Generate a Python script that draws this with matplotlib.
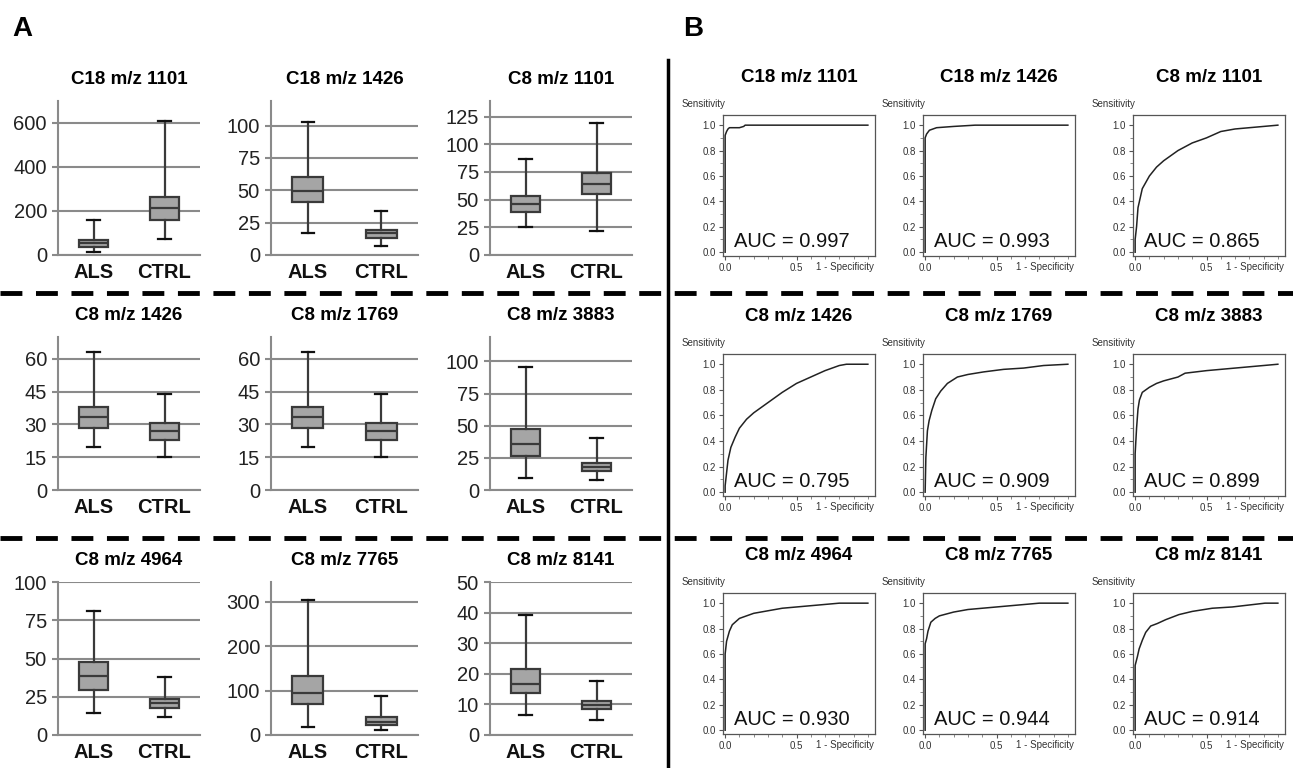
import numpy as np
import matplotlib
matplotlib.use('Agg')
import matplotlib.pyplot as plt
from matplotlib.lines import Line2D
from matplotlib.ticker import MultipleLocator

plt.rcParams['font.family'] = ['Liberation Sans', 'DejaVu Sans']

# ---- data ----
titles = ['C18 m/z 1101', 'C18 m/z 1426', 'C8 m/z 1101',
          'C8 m/z 1426', 'C8 m/z 1769', 'C8 m/z 3883',
          'C8 m/z 4964', 'C8 m/z 7765', 'C8 m/z 8141']
groups = ['ALS', 'CTRL']

# [whisker low, Q1, median, Q3, whisker high]
als_stats = [
    [15, 38, 56, 68, 159],
    [17, 41, 49.5, 60.6, 103],
    [25.4, 39, 46, 53.3, 86.7],
    [19.8, 28.3, 33.2, 38.1, 63.2],
    [19.8, 28.3, 33.2, 38.1, 63.2],
    [9.6, 26.1, 35.9, 47.3, 95.3],
    [14.3, 29.3, 38.5, 47.4, 81],
    [17, 69, 95, 132, 304],
    [6.6, 13.6, 16.8, 21.5, 39.3],
]
ctrl_stats = [
    [71, 159, 214, 263, 607],
    [7.2, 12.9, 16.8, 19.6, 34],
    [21.4, 55, 64.3, 73.8, 119],
    [15.1, 23.1, 27.2, 30.5, 44],
    [15.1, 23.1, 27.2, 30.5, 44],
    [8, 15, 18.1, 21.2, 40.3],
    [11.7, 17.4, 20.6, 23.7, 37.8],
    [10.5, 22.6, 29, 41, 88],
    [4.9, 8.4, 9.9, 11.1, 17.6],
]
y_ticks = [[0, 200, 400, 600], [0, 25, 50, 75, 100], [0, 25, 50, 75, 100, 125],
           [0, 15, 30, 45, 60], [0, 15, 30, 45, 60], [0, 25, 50, 75, 100],
           [0, 25, 50, 75, 100], [0, 100, 200, 300], [0, 10, 20, 30, 40, 50]]
y_max = [700, 119, 139, 70, 70, 119, 100, 345, 50]

auc_values = ['0.997', '0.993', '0.865', '0.795', '0.909', '0.899', '0.930', '0.944', '0.914']
roc_fpr = [
    [0, 0, 0.01, 0.02, 0.03, 0.1, 0.13, 0.14, 1],
    [0, 0, 0.01, 0.03, 0.08, 0.2, 0.35, 1],
    [0, 0, 0.01, 0.02, 0.03, 0.05, 0.1, 0.15, 0.2, 0.3, 0.4, 0.5, 0.6, 0.7, 0.8, 0.9, 1],
    [0, 0, 0.01, 0.02, 0.04, 0.07, 0.1, 0.15, 0.2, 0.3, 0.4, 0.5, 0.6, 0.7, 0.8, 0.85, 1],
    [0, 0.005, 0.016, 0.028, 0.047, 0.074, 0.109, 0.156, 0.226, 0.3, 0.41, 0.55, 0.69, 0.83, 1],
    [0, 0, 0.01, 0.02, 0.03, 0.05, 0.1, 0.15, 0.2, 0.3, 0.35, 0.5, 0.6, 0.8, 0.9, 1],
    [0, 0, 0.01, 0.03, 0.05, 0.1, 0.2, 0.3, 0.4, 0.5, 0.6, 0.7, 0.8, 1],
    [0, 0, 0.01, 0.02, 0.04, 0.07, 0.1, 0.2, 0.3, 0.5, 0.7, 0.8, 1],
    [0, 0, 0.016, 0.028, 0.051, 0.074, 0.109, 0.156, 0.214, 0.307, 0.4, 0.54, 0.68, 0.81, 0.91, 1],
]
roc_tpr = [
    [0, 0.92, 0.95, 0.97, 0.98, 0.98, 0.99, 1.0, 1.0],
    [0, 0.9, 0.93, 0.96, 0.98, 0.99, 1.0, 1.0],
    [0, 0.1, 0.2, 0.35, 0.4, 0.5, 0.6, 0.67, 0.72, 0.8, 0.86, 0.9, 0.95, 0.97, 0.98, 0.99, 1.0],
    [0, 0.05, 0.15, 0.25, 0.35, 0.43, 0.5, 0.57, 0.62, 0.7, 0.78, 0.85, 0.9, 0.95, 0.99, 1.0, 1.0],
    [0, 0.27, 0.48, 0.56, 0.64, 0.73, 0.79, 0.85, 0.9, 0.92, 0.94, 0.96, 0.97, 0.99, 1.0],
    [0, 0.3, 0.5, 0.65, 0.72, 0.78, 0.82, 0.85, 0.87, 0.9, 0.93, 0.95, 0.96, 0.98, 0.99, 1.0],
    [0, 0.6, 0.7, 0.78, 0.83, 0.88, 0.92, 0.94, 0.96, 0.97, 0.98, 0.99, 1.0, 1.0],
    [0, 0.68, 0.72, 0.78, 0.85, 0.88, 0.9, 0.93, 0.95, 0.97, 0.99, 1.0, 1.0],
    [0, 0.51, 0.58, 0.64, 0.71, 0.77, 0.82, 0.84, 0.87, 0.91, 0.935, 0.96, 0.97, 0.987, 1.0, 1.0],
]

# ---- layout (pixels) ----
W, H = 1293, 768
fig = plt.figure(figsize=(W / 100, H / 100), dpi=100)


def rect(l, t, r, b):
    return [l / W, 1 - b / H, (r - l) / W, (b - t) / H]


box_cols = [(58, 200), (271, 418), (490, 632)]
box_rows = [(101, 255), (337, 490), (582, 735)]
roc_cols = [(723, 875), (923, 1075), (1133, 1285)]
roc_rows = [(115, 256), (354, 496), (593, 734)]

grid_c = '#8a8a8a'
dark = '#3a3a3a'

for i in range(9):
    r, c = divmod(i, 3)
    l, rr = box_cols[c]
    t, b = box_rows[r]
    ax = fig.add_axes(rect(l, t, rr, b))
    stats = []
    for name, s in zip(groups, [als_stats[i], ctrl_stats[i]]):
        stats.append(dict(label=name, whislo=s[0], q1=s[1], med=s[2], q3=s[3], whishi=s[4]))
    ax.bxp(stats, positions=[1, 2], widths=0.42, showfliers=False, patch_artist=True,
           boxprops=dict(facecolor='#a5a5a5', edgecolor=dark, linewidth=1.6),
           medianprops=dict(color=dark, linewidth=1.6),
           whiskerprops=dict(color=dark, linewidth=1.6),
           capprops=dict(color='#111111', linewidth=1.6), capwidths=0.17, zorder=3)
    ax.set_xlim(0.5, 2.5)
    ax.set_ylim(0, y_max[i])
    ax.set_yticks(y_ticks[i])
    ax.yaxis.grid(True, color=grid_c, linewidth=1.5, zorder=0)
    ax.set_axisbelow(True)
    for sp in ['top', 'right']:
        ax.spines[sp].set_visible(False)
    for sp in ['left', 'bottom']:
        ax.spines[sp].set_color(grid_c)
        ax.spines[sp].set_linewidth(1.5)
    ax.tick_params(axis='y', length=4, width=1.5, color=grid_c, labelsize=14.5,
                   labelcolor='#222222', pad=4)
    ax.tick_params(axis='x', length=0, pad=6)
    ax.set_xticklabels(groups, fontsize=14.5, fontweight='bold', color='#111111')
    ax.set_title(titles[i], fontsize=13.5, fontweight='bold', pad=12)

    # ROC panel
    l, rr = roc_cols[c]
    t, b = roc_rows[r]
    ax2 = fig.add_axes(rect(l, t, rr, b))
    ax2.plot(roc_fpr[i], roc_tpr[i], color='#222222', linewidth=1.1)
    ax2.set_xlim(-0.015, 1.05)
    ax2.set_ylim(-0.03, 1.08)
    ax2.set_yticks([0, 0.2, 0.4, 0.6, 0.8, 1.0])
    ax2.set_yticklabels(['0.0', '0.2', '0.4', '0.6', '0.8', '1.0'])
    ax2.set_xticks([0, 0.5])
    ax2.set_xticklabels(['0.0', '0.5'])
    ax2.xaxis.set_minor_locator(MultipleLocator(0.1))
    ax2.yaxis.set_minor_locator(MultipleLocator(0.1))
    for sp in ax2.spines.values():
        sp.set_color('#555555')
        sp.set_linewidth(0.9)
    ax2.tick_params(which='major', length=3, width=0.8, color='#555555', labelsize=7,
                    labelcolor='#333333', pad=2)
    ax2.tick_params(which='minor', length=2, width=0.6, color='#777777')
    ax2.text(1.045, -0.045, '1 - Specificity', transform=ax2.get_xaxis_transform(),
             ha='right', va='top', fontsize=7, color='#333333')
    ax2.text(-0.27, 1.075, 'Sensitivity', transform=ax2.transAxes,
             ha='left', va='center', fontsize=7, color='#333333')
    ax2.text(0.07, 0.1, 'AUC = ' + auc_values[i], transform=ax2.transAxes,
             ha='left', va='center', fontsize=14.5, color='#111111')
    ax2.set_title(titles[i], fontsize=13.5, fontweight='bold', pad=24)

# panel letters
fig.text(12 / W, 1 - 29 / H, 'A', fontsize=20, fontweight='bold', va='center', ha='left')
fig.text(683 / W, 1 - 29 / H, 'B', fontsize=20, fontweight='bold', va='center', ha='left')

# separators
fig.add_artist(Line2D([668 / W, 668 / W], [0, 1 - 60 / H], color='black', linewidth=2.5))
for yy in [293, 538]:
    fig.add_artist(Line2D([0, 1], [1 - yy / H, 1 - yy / H], color='black', linewidth=3.5,
                          dashes=(4.5, 2.8)))

fig.savefig('out.png', dpi=100)
